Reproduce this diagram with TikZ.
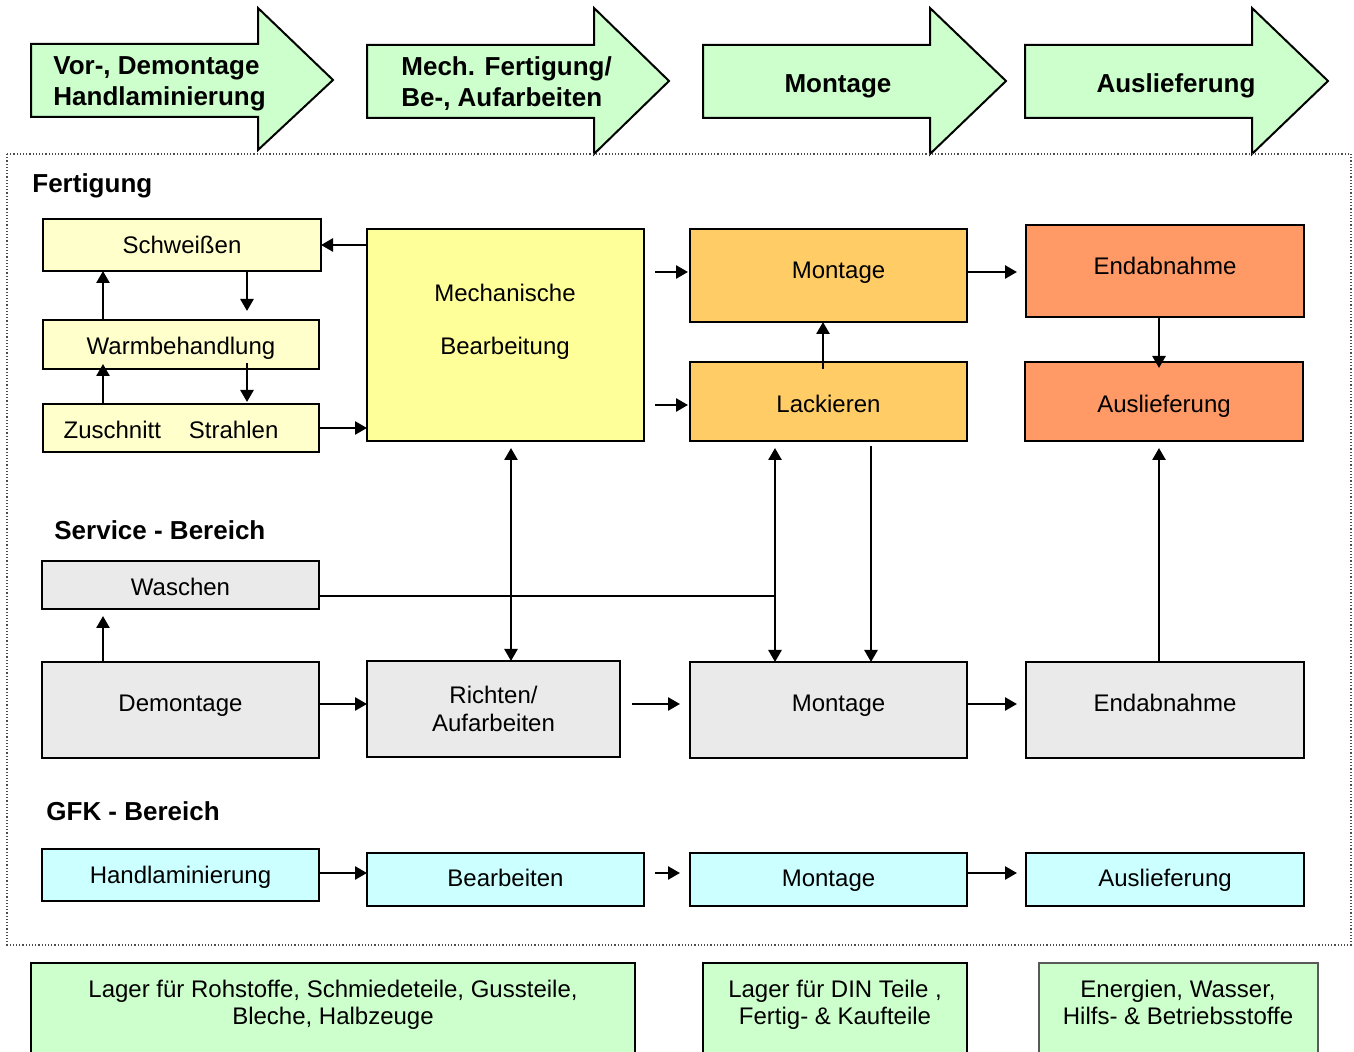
\documentclass[tikz,border=0pt]{standalone}
\usepackage{fontspec}
\setmainfont{Liberation Sans}
\usetikzlibrary{arrows.meta,calc}
\definecolor{fyel}{HTML}{FFFFCC}
\definecolor{myel}{HTML}{FFFF99}
\definecolor{ora}{HTML}{FFCC66}
\definecolor{ored}{HTML}{FF9966}
\definecolor{gry}{HTML}{EAEAEA}
\definecolor{cyn}{HTML}{CCFFFF}
\definecolor{grn}{HTML}{CCFFCC}
\begin{document}
\begin{tikzpicture}[x=0.5pt,y=-0.5pt,
  box/.style={draw, line width=1.3pt, inner sep=0pt, outer sep=0pt, align=center, font=\fontsize{12}{14}\selectfont},
  one/.style={text height=8.8pt, text depth=0.2pt},
  txt/.style={inner sep=0pt, align=center, font=\fontsize{12}{13.5}\selectfont},
  head/.style={inner sep=0pt, align=left, font=\bfseries\fontsize{13}{15.5}\selectfont},
  bigarrow/.style={draw, line width=1pt, fill=grn, line join=miter},
  arr/.style={line width=1.3pt, -{Triangle[length=6pt,width=6.5pt]}},
  darr/.style={line width=1.3pt, {Triangle[length=6pt,width=6.5pt]}-{Triangle[length=6pt,width=6.5pt]}},
  plain/.style={line width=1.3pt}]
\useasboundingbox (0,0) rectangle (1354,1052);

% top process arrows
\draw[bigarrow] (31,44) -- (258,44) -- (258,8) -- (333,80) -- (258,150) -- (258,117) -- (31,117) -- cycle;
\draw[bigarrow] (367,45) -- (594,45) -- (594,8) -- (669,81) -- (594,154) -- (594,118) -- (367,118) -- cycle;
\draw[bigarrow] (703,45) -- (930,45) -- (930,8) -- (1006,81) -- (930,154) -- (930,118) -- (703,118) -- cycle;
\draw[bigarrow] (1025,45) -- (1252,45) -- (1252,8) -- (1328,81) -- (1252,154) -- (1252,118) -- (1025,118) -- cycle;
\node[head, anchor=west] (a1) at (53,84) {Vor-, Demontage\\Handlaminierung};
\node[head, anchor=west] (a2) at (401,84) {Mech. Fertigung/\\Be-, Aufarbeiten};
\node[head] (a3) at (838,86) {Montage};
\node[head] (a4) at (1176,86) {Auslieferung};

% dotted frame
\draw[densely dotted, line width=0.6pt, black!70] (7,154) rectangle (1351,945);

% section labels
\node[head, anchor=west] (lf) at (32,186) {Fertigung};
\node[head, anchor=west] (ls) at (54,530) {Service - Bereich};
\node[head, anchor=west] (lg) at (46,811) {GFK - Bereich};

% Fertigung
\node[box, one, fill=fyel, minimum width=139pt, minimum height=26pt] (sch) at (182,245) {Schweißen};
\node[box, one, text height=10.3pt, fill=fyel, minimum width=138pt, minimum height=24.5pt] (warm) at (181,344.5) {Warmbehandlung};
\node[box, one, text height=10.8pt, fill=fyel, minimum width=138pt, minimum height=24pt] (zus) at (181,428) {Zuschnitt\hspace{14pt}Strahlen\hspace*{10pt}};
\node[box, fill=myel, minimum width=138.5pt, minimum height=106pt] (mech) at (505.5,335) {};
\node[txt] (mechtxt) at (505,322) {Mechanische\\[13pt]Bearbeitung};
\node[box, one, text depth=5.7pt, fill=ora, minimum width=138.5pt, minimum height=46.5pt] (mont1) at (828.5,275.5) {\hspace*{10pt}Montage};
\node[box, one, text height=11.3pt, fill=ora, minimum width=138.5pt, minimum height=39.5pt] (lack) at (828.5,401.5) {Lackieren};
\node[box, one, text depth=5.2pt, fill=ored, minimum width=139pt, minimum height=46pt] (end1) at (1165,271) {Endabnahme};
\node[box, one, text height=11.3pt, fill=ored, minimum width=139pt, minimum height=39.5pt] (aus1) at (1164,401.5) {Auslieferung};

% Service
\node[box, one, text height=10.8pt, fill=gry, minimum width=138.5pt, minimum height=24pt] (wasch) at (180.5,585) {Waschen};
\node[box, one, text depth=7.2pt, fill=gry, minimum width=138.5pt, minimum height=48pt] (demo) at (180.5,710) {Demontage};
\node[box, fill=gry, minimum width=126.5pt, minimum height=48pt] (richt) at (493.5,709) {Richten/\\Aufarbeiten};
\node[box, one, text depth=7.2pt, fill=gry, minimum width=138.5pt, minimum height=48pt] (mont2) at (828.5,710) {\hspace*{10pt}Montage};
\node[box, one, text depth=7.2pt, fill=gry, minimum width=139pt, minimum height=48pt] (end2) at (1165,710) {Endabnahme};

% GFK
\node[box, one, fill=cyn, minimum width=138.5pt, minimum height=26pt] (hand) at (180.5,875) {Handlaminierung};
\node[box, one, text depth=1.7pt, fill=cyn, minimum width=138.5pt, minimum height=26.5pt] (bearb) at (505.5,879.5) {Bearbeiten};
\node[box, one, text depth=1.7pt, fill=cyn, minimum width=138.5pt, minimum height=26.5pt] (mont3) at (828.5,879.5) {Montage};
\node[box, one, text depth=1.7pt, fill=cyn, minimum width=139pt, minimum height=26.5pt] (aus3) at (1165,879.5) {Auslieferung};

% bottom stores
\node[box, fill=grn, minimum width=302pt, minimum height=55pt] (lag1) at (333,1018) {};
\node[box, fill=grn, minimum width=132pt, minimum height=55pt] (lag2) at (835,1018) {};
\node[box, draw=black!65, fill=grn, minimum width=139.5pt, minimum height=55pt] (energ) at (1178.5,1018) {};
\node[txt] (lag1t) at (333,1005) {Lager für Rohstoffe, Schmiedeteile, Gussteile,\\Bleche, Halbzeuge};
\node[txt] (lag2t) at (835,1005) {Lager für DIN Teile ,\\Fertig- \& Kaufteile};
\node[txt] (energt) at (1178,1002) {Energien, Wasser,\\Hilfs- \& Betriebsstoffe};

% helper coordinates
\coordinate (c103) at (103,0);
\coordinate (c247) at (247,0);
\coordinate (c511) at (511,0);
\coordinate (c775) at (775,0);
\coordinate (c823) at (823,0);
\coordinate (c871) at (871,0);
\coordinate (c1159) at (1159,0);
\coordinate (y596) at (0,596);
\coordinate (y704) at (0,704);
\coordinate (y873) at (0,873);
\coordinate (s1) at (655,272);
\coordinate (s2) at (655,405);

% Fertigung connectors
\draw[arr] (mech.west |- sch.east) -- (sch.east);
\draw[arr] (sch.south -| c247) -- ($(warm.north -| c247)+(0,-9)$);
\draw[arr] (warm.north -| c103) -- (sch.south -| c103);
\draw[arr] (zus.north -| c103) -- ($(warm.south -| c103)+(0,-5)$);
\draw[arr] ($(warm.south -| c247)+(0,-6)$) -- ($(zus.north -| c247)+(0,-2)$);
\draw[arr] (zus.east) -- (mech.west |- zus.east);
\draw[arr] (s1) -- ($(mont1.west |- s1)+(-2,0)$);
\draw[arr] (s2) -- ($(lack.west |- s2)+(-2,0)$);
\draw[arr] ($(lack.north -| c823)+(0,7)$) -- (mont1.south -| c823);
\draw[arr] (mont1.east |- s1) -- ($(end1.west |- s1)+(-9,0)$);
\draw[arr] (end1.south -| c1159) -- ($(aus1.north -| c1159)+(0,6)$);

% cross connectors
\draw[darr] ($(mech.south -| c511)+(0,7)$) -- (richt.north -| c511);
\draw[darr] ($(lack.south -| c775)+(0,7)$) -- (mont2.north -| c775);
\draw[plain] (wasch.east |- y596) -- (c775 |- y596);
\draw[arr] ($(lack.south -| c871)+(0,5)$) -- (mont2.north -| c871);
\draw[arr] (end2.north -| c1159) -- ($(aus1.south -| c1159)+(0,7)$);

% Service connectors
\draw[arr] (demo.north -| c103) -- ($(wasch.south -| c103)+(0,7)$);
\draw[arr] (demo.east |- y704) -- (richt.west |- y704);
\draw[arr] ($(richt.east |- y704)+(12,0)$) -- ($(mont2.west |- y704)+(-10,0)$);
\draw[arr] (mont2.east |- y704) -- ($(end2.west |- y704)+(-9,0)$);

% GFK connectors
\draw[arr] (hand.east |- y873) -- (bearb.west |- y873);
\draw[arr] ($(bearb.east |- y873)+(11,0)$) -- ($(mont3.west |- y873)+(-10,0)$);
\draw[arr] (mont3.east |- y873) -- ($(aus3.west |- y873)+(-9,0)$);
\end{tikzpicture}
\end{document}
